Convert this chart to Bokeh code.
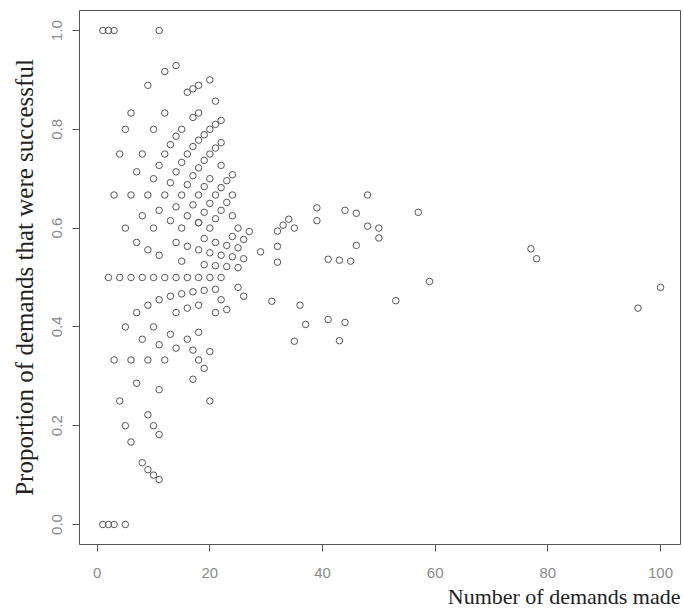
from bokeh.plotting import figure
from bokeh.models import Range1d, FixedTicker, Title
from bokeh.embed import file_html
from bokeh.resources import INLINE

# number of demands made (x) and proportion successful (y)
demands = [
    1, 1,
    2, 2, 2,
    3, 3, 3, 3,
    4, 4, 4,
    5, 5, 5, 5, 5,
    6, 6, 6, 6, 6,
    7, 7, 7, 7,
    8, 8, 8, 8, 8,
    9, 9, 9, 9, 9, 9, 9,
    10, 10, 10, 10, 10, 10, 10,
    11, 11, 11, 11, 11, 11, 11, 11, 11,
    12, 12, 12, 12, 12, 12,
    13, 13, 13, 13, 13,
    14, 14, 14, 14, 14, 14, 14, 14,
    15, 15, 15, 15, 15, 15,
    16, 16, 16, 16, 16, 16, 16, 16,
    17, 17, 17, 17, 17, 17, 17, 17,
    18, 18, 18, 18, 18, 18, 18, 18, 18, 18, 18, 18,
    19, 19, 19, 19, 19, 19, 19, 19,
    20, 20, 20, 20, 20, 20, 20, 20, 20, 20,
    21, 21, 21, 21, 21, 21, 21, 21, 21,
    22, 22, 22, 22, 22, 22, 22, 22,
    23, 23, 23, 23, 23,
    24, 24, 24, 24, 24,
    25, 25, 25, 25,
    26, 26, 26,
    27, 29, 31, 32, 32, 32, 33, 34, 35, 35, 36, 37, 39, 39,
    41, 41, 43, 43, 44, 44, 45, 46, 46, 48, 48, 50, 50,
    53, 57, 59, 77, 78, 96, 100,
]
proportion = [
    0.0, 1.0,
    0.0, 0.5, 1.0,
    0.0, 0.333, 0.667, 1.0,
    0.25, 0.5, 0.75,
    0.0, 0.2, 0.4, 0.6, 0.8,
    0.167, 0.333, 0.5, 0.667, 0.833,
    0.286, 0.429, 0.571, 0.714,
    0.125, 0.375, 0.5, 0.625, 0.75,
    0.111, 0.222, 0.333, 0.444, 0.556, 0.667, 0.889,
    0.1, 0.2, 0.4, 0.5, 0.6, 0.7, 0.8,
    0.091, 0.182, 0.273, 0.364, 0.455, 0.545, 0.636, 0.727, 1.0,
    0.333, 0.5, 0.667, 0.75, 0.833, 0.917,
    0.385, 0.462, 0.615, 0.692, 0.769,
    0.357, 0.429, 0.5, 0.571, 0.643, 0.714, 0.786, 0.929,
    0.467, 0.533, 0.6, 0.667, 0.733, 0.8,
    0.375, 0.438, 0.5, 0.563, 0.625, 0.688, 0.75, 0.875,
    0.294, 0.353, 0.471, 0.647, 0.706, 0.765, 0.824, 0.882,
    0.333, 0.389, 0.444, 0.5, 0.556, 0.611, 0.611, 0.667, 0.722, 0.778, 0.833, 0.889,
    0.316, 0.474, 0.526, 0.579, 0.632, 0.684, 0.737, 0.789,
    0.25, 0.35, 0.5, 0.55, 0.6, 0.65, 0.7, 0.75, 0.8, 0.9,
    0.429, 0.476, 0.524, 0.571, 0.619, 0.667, 0.762, 0.81, 0.857,
    0.455, 0.5, 0.545, 0.636, 0.682, 0.727, 0.773, 0.818,
    0.435, 0.522, 0.565, 0.652, 0.696,
    0.542, 0.583, 0.625, 0.667, 0.708,
    0.48, 0.52, 0.56, 0.6,
    0.462, 0.538, 0.577,
    0.593, 0.552, 0.452, 0.531, 0.563, 0.594, 0.606, 0.618, 0.371, 0.6, 0.444, 0.405, 0.615, 0.641,
    0.415, 0.537, 0.372, 0.535, 0.409, 0.636, 0.533, 0.565, 0.63, 0.604, 0.667, 0.58, 0.6,
    0.453, 0.632, 0.492, 0.558, 0.538, 0.438, 0.48,
]

x_ticks = [0, 20, 40, 60, 80, 100]
y_ticks = [0.0, 0.2, 0.4, 0.6, 0.8, 1.0]
y_tick_labels = ["0.0", "0.2", "0.4", "0.6", "0.8", "1.0"]

p = figure(width=684, height=615, output_backend="svg", toolbar_location=None,
           x_range=Range1d(-3.14, 103.55), y_range=Range1d(-0.0405, 1.0405),
           min_border_left=79, min_border_right=4, min_border_top=10, min_border_bottom=71)

p.background_fill_color = "white"
p.border_fill_color = "white"
p.outline_line_color = "#555555"
p.outline_line_width = 1
p.xgrid.visible = False
p.ygrid.visible = False

p.scatter(demands, proportion, marker="circle", size=6.5, fill_color=None,
          line_color="#555555", line_width=1)

tick_font = "Liberation Sans"
for ax in (p.xaxis[0], p.yaxis[0]):
    ax.axis_line_color = None
    ax.major_tick_line_color = "#555555"
    ax.major_tick_in = 0
    ax.major_tick_out = 7
    ax.minor_tick_line_color = None
    ax.major_label_text_font = tick_font
    ax.major_label_text_font_size = "15px"
    ax.major_label_text_color = "#8a8a8a"

p.xaxis[0].ticker = FixedTicker(ticks=x_ticks)
p.xaxis[0].major_label_standoff = 16
p.yaxis[0].ticker = FixedTicker(ticks=y_ticks)
p.yaxis[0].major_label_overrides = {t: s for t, s in zip(y_ticks, y_tick_labels)}
p.yaxis[0].major_label_orientation = "vertical"
p.yaxis[0].major_label_standoff = 10
p.yaxis[0].axis_label = "Proportion of demands that were successful"
p.yaxis[0].axis_label_text_font = "Liberation Serif"
p.yaxis[0].axis_label_text_font_size = "25px"
p.yaxis[0].axis_label_text_font_style = "normal"
p.yaxis[0].axis_label_text_color = "#222222"
p.yaxis[0].axis_label_standoff = 12

p.add_layout(Title(text="Number of demands made", align="right",
                   text_font="Liberation Serif", text_font_size="22px",
                   text_font_style="normal", text_color="#222222",
                   standoff=2), "below")

open("out.html", "w").write(file_html(p, INLINE))
